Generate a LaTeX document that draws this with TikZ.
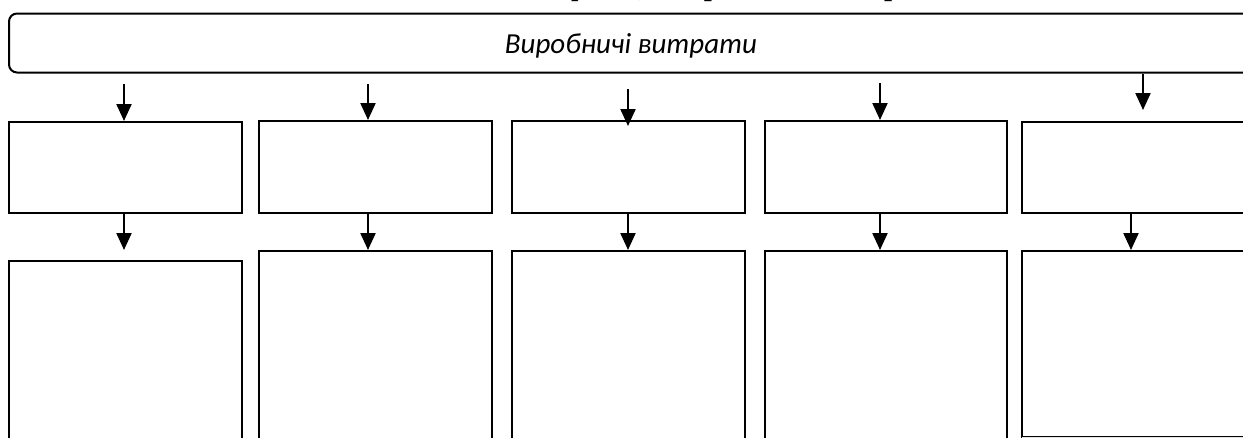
\documentclass[tikz,border=0pt]{standalone}
\usepackage{fontspec}
\setmainfont{Liberation Serif}
\newfontfamily\calibri{Carlito}
\usetikzlibrary{arrows.meta}
\begin{document}
\begin{tikzpicture}[x=1pt,y=-1pt,
  box/.style={draw=black, line width=2pt, rectangle, anchor=north west, inner sep=0pt},
  arr/.style={draw=black, line width=2.2pt, -{Triangle[length=17pt,width=15pt]}},
  title/.style={font=\bfseries\fontsize{29}{30}\selectfont, anchor=base, inner sep=0pt}
]
\useasboundingbox (0,0) rectangle (1243,437);
\clip (0,0) rectangle (1243,437);

% title (cut by top edge)
\node[title] (ttl) at (706,-5) {Класифікація виробничих витрат};

% top rounded box
\node[draw=black, line width=2pt, rounded corners=8pt, anchor=north west,
      minimum width=1244pt, minimum height=59pt, inner sep=0pt] (top) at (8,12.5) {};
\node[font=\calibri\itshape\fontsize{29}{30}\selectfont, inner sep=0pt] (toptext) at ([yshift=-3pt]top.center) {Виробничі витрати};

% first row boxes
\node[box, minimum width=233pt, minimum height=91pt] (a1) at (8,121) {};
\node[box, minimum width=233pt, minimum height=92pt] (a2) at (258,120) {};
\node[box, minimum width=233pt, minimum height=92pt] (a3) at (511,120) {};
\node[box, minimum width=242pt, minimum height=92pt] (a4) at (764,120) {};
\node[box, minimum width=240pt, minimum height=91pt] (a5) at (1021,121) {};

% second row boxes
\node[box, minimum width=233pt, minimum height=200pt] (b1) at (8,260) {};
\node[box, minimum width=233pt, minimum height=210pt] (b2) at (258,250) {};
\node[box, minimum width=233pt, minimum height=210pt] (b3) at (511,250) {};
\node[box, minimum width=242pt, minimum height=210pt] (b4) at (764,250) {};
\node[box, minimum width=240pt, minimum height=186pt] (b5) at (1021,250) {};
\draw[gray!20, line width=2pt] (b5.south west) ++(1,0) -- (b5.south east);

% arrow start/end coordinates
\coordinate (s1) at (124,84);
\coordinate (s2) at (368,84);
\coordinate (s3) at (628,89);
\coordinate (s4) at (880,83);
\coordinate (e3) at (628,126);
\coordinate (e5) at (1143,110);

% top arrows
\draw[arr] (s1) -- (s1 |- a1.north);
\draw[arr] (s2) -- (s2 |- a2.north);
\draw[arr] (s3) -- (e3);
\draw[arr] (s4) -- (s4 |- a4.north);
\draw[arr] (e5 |- top.south) -- (e5);

% bottom arrows
\coordinate (d1) at (124,250);
\coordinate (d5) at (1131,250);
\draw[arr] (d1 |- a1.south) -- (d1);
\draw[arr] (s2 |- a2.south) -- (s2 |- b2.north);
\draw[arr] (s3 |- a3.south) -- (s3 |- b3.north);
\draw[arr] (s4 |- a4.south) -- (s4 |- b4.north);
\draw[arr] (d5 |- a5.south) -- (d5 |- b5.north);
\end{tikzpicture}
\end{document}
